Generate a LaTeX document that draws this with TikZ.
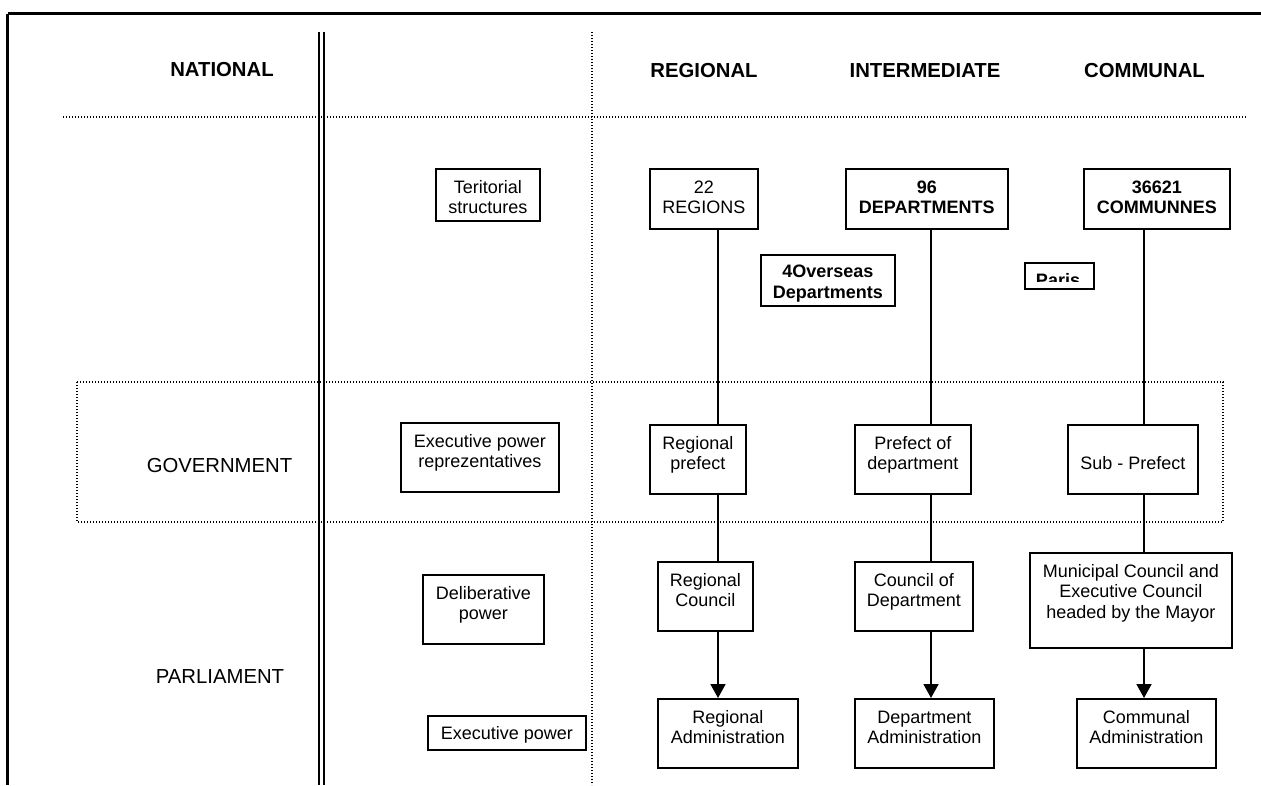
\documentclass[tikz,border=0pt]{standalone}
\usepackage{fontspec}
\setmainfont{Liberation Sans}
\usetikzlibrary{arrows.meta}
\newcommand\bt[4][24.5pt]{\begin{minipage}[t][#3][t]{#2}\centering\rule{0pt}{#1}#4\end{minipage}}
\tikzset{
  box/.style={draw, line width=1.6pt, inner sep=0pt, anchor=north west, font=\fontsize{18pt}{20.5pt}\selectfont},
  bbox/.style={box, font=\fontsize{18pt}{20.5pt}\selectfont\bfseries},
  head/.style={anchor=base, inner sep=0pt, font=\fontsize{20.3pt}{24pt}\selectfont\bfseries},
  lab/.style={anchor=base, inner sep=0pt, font=\fontsize{20.3pt}{24pt}\selectfont},
  dotline/.style={line width=1.2pt, dash pattern=on 1.2pt off 1.8pt},
  conn/.style={line width=1.8pt},
  arr/.style={conn, -{Triangle[length=14pt,width=15pt]}},
  frame/.style={line width=2.3pt}
}
\begin{document}
\begin{tikzpicture}[x=1pt,y=-1pt]
\useasboundingbox (0,0) rectangle (1261,785);
% frame and dividers
\draw[frame] (7.5,13.5) -- (1261,13.5);
\draw[frame] (7.5,13.5) -- (7.5,785);
\draw[line width=2pt] (318.7,32) -- (318.7,785);
\draw[line width=2pt] (323.8,32) -- (323.8,785);
\draw[dotline] (592,32) -- (592,785);
\draw[dotline] (63,117) -- (1246,117);
\draw[dotline] (77,382) rectangle (1223,522);
% headers
\node[head] (hnat) at (222,76) {NATIONAL};
\node[head] (hreg) at (704,77) {REGIONAL};
\node[head] (hint) at (925,77) {INTERMEDIATE};
\node[head] (hcom) at (1144.5,77) {COMMUNAL};
\node[lab] (gov) at (219.5,472) {GOVERNMENT};
\node[lab] (parl) at (220,683) {PARLIAMENT};
% left column boxes
\node[box] (terr) at (435,168) {\bt{104pt}{52pt}{Teritorial\\structures}};
\node[box] (epr) at (400,422) {\bt{158pt}{69pt}{Executive power\\reprezentatives}};
\node[box] (delib) at (422,574) {\bt{121pt}{69pt}{Deliberative\\power}};
\node[box] (execp) at (427,715) {\bt[24pt]{158pt}{34pt}{Executive power}};
% top row
\node[box] (reg) at (649,168) {\bt{108pt}{60pt}{22\\REGIONS}};
\node[bbox] (dep) at (845,168) {\bt{162pt}{60pt}{96\\DEPARTMENTS}};
\node[bbox] (com) at (1083,168) {\bt{146pt}{60pt}{36621\\COMMUNNES}};
\node[bbox] (ovs) at (760,254) {\bt[22.7pt]{134pt}{51pt}{4Overseas\\Departments}};
\node[bbox] (paris) at (1024,262) {\bt[0pt]{69pt}{26pt}{}};
\begin{scope}
\clip (1025,263) rectangle (1092,281);
\node[anchor=base, inner sep=0pt, font=\fontsize{18pt}{20.5pt}\selectfont\bfseries] (paristxt) at (1058,286.5) {Paris};
\end{scope}
% government row
\node[box] (rp) at (649,424) {\bt{96pt}{69pt}{Regional\\prefect}};
\node[box] (pd) at (854,424) {\bt{116pt}{69pt}{Prefect of\\department}};
\node[box] (sp) at (1067,424) {\bt[44.5pt]{130pt}{69pt}{Sub - Prefect}};
% councils
\node[box] (rc) at (657,561) {\bt{95pt}{69pt}{Regional\\Council}};
\node[box] (cd) at (854,561) {\bt{118pt}{69pt}{Council of\\Department}};
\node[box] (mc) at (1029,552) {\bt{202pt}{95pt}{Municipal Council and\\Executive Council\\headed by the Mayor}};
% administrations
\node[box] (ra) at (657,698) {\bt{140pt}{69pt}{Regional\\Administration}};
\node[box] (da) at (854,698) {\bt{139pt}{69pt}{Department\\Administration}};
\node[box] (ca) at (1076,698) {\bt{139pt}{69pt}{Communal\\Administration}};
% column coordinates
\coordinate (cA) at (718,0);
\coordinate (cB) at (931,0);
\coordinate (cC) at (1144,0);
% connectors
\draw[conn] (reg.south -| cA) -- (rp.north -| cA);
\draw[conn] (rp.south -| cA) -- (rc.north -| cA);
\draw[arr] (rc.south -| cA) -- (ra.north -| cA);
\draw[conn] (dep.south -| cB) -- (pd.north -| cB);
\draw[conn] (pd.south -| cB) -- (cd.north -| cB);
\draw[arr] (cd.south -| cB) -- (da.north -| cB);
\draw[conn] (com.south -| cC) -- (sp.north -| cC);
\draw[conn] (sp.south -| cC) -- (mc.north -| cC);
\draw[arr] (mc.south -| cC) -- (ca.north -| cC);
\end{tikzpicture}
\end{document}
